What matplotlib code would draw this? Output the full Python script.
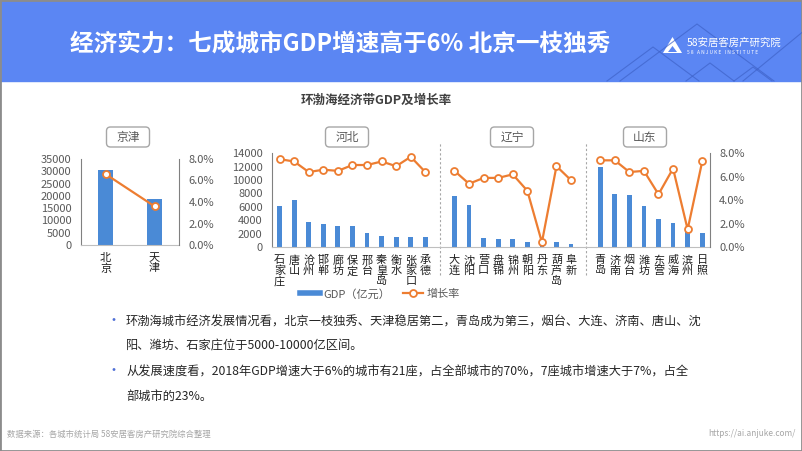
import numpy as np
import matplotlib.pyplot as plt
from matplotlib.lines import Line2D
from matplotlib.patches import FancyBboxPatch, Rectangle, Polygon
from matplotlib.ticker import FuncFormatter, MultipleLocator
from matplotlib.transforms import IdentityTransform

plt.rcParams['font.family'] = ['Noto Sans CJK SC', 'DejaVu Sans']

W, H = 802, 451

# GDP (亿元) and growth rate (%)
jingjin_cities = ['北京', '天津']
jingjin_gdp = [30320, 18810]
jingjin_growth = [6.6, 3.6]

hebei_cities = ['石家庄', '唐山', '沧州', '邯郸', '廊坊', '保定', '邢台',
                '秦皇岛', '衡水', '张家口', '承德']
hebei_gdp = [6082, 6955, 3676, 3455, 3108, 3070, 2150, 1636, 1558, 1536, 1481]
hebei_growth = [7.5, 7.3, 6.4, 6.6, 6.5, 7.0, 7.0, 7.3, 6.9, 7.7, 6.4]

liaoning_cities = ['大连', '沈阳', '营口', '盘锦', '锦州', '朝阳', '丹东',
                   '葫芦岛', '阜新']
liaoning_gdp = [7668, 6292, 1300, 1150, 1150, 780, 820, 760, 420]
liaoning_growth = [6.5, 5.4, 5.9, 5.9, 6.2, 4.8, 0.4, 6.9, 5.7]

shandong_cities = ['青岛', '济南', '烟台', '潍坊', '东营', '威海', '滨州', '日照']
shandong_gdp = [12001, 7857, 7833, 6157, 4152, 3642, 2200, 2150]
shandong_growth = [7.4, 7.4, 6.4, 6.5, 4.5, 6.7, 1.5, 7.3]

group_names = ['河北', '辽宁', '山东']

BLUE = '#4a8ad6'
ORANGE = '#ed7d31'
HEADER = '#5b86f3'


def fy(y):
    return 1 - y / H


def pct(v, pos):
    return '{:.1f}%'.format(v)


def label_box(cx, cy, text):
    w, h = 43, 20
    box = FancyBboxPatch((cx - w / 2, H - cy - h / 2), w, h,
                         boxstyle='round,pad=0,rounding_size=4',
                         transform=IdentityTransform(), fc='white',
                         ec='#a6a6a6', lw=1)
    fig.add_artist(box)
    fig.text(cx / W, fy(cy), text, ha='center', va='center', fontsize=8.5,
             color='#595959')


def style_axes(ax, axr, ymax, ystep):
    ax.set_ylim(0, ymax)
    ax.yaxis.set_major_locator(MultipleLocator(ystep))
    axr.set_ylim(0, 8)
    axr.yaxis.set_major_locator(MultipleLocator(2))
    axr.yaxis.set_major_formatter(FuncFormatter(pct))
    for a in (ax, axr):
        a.spines['top'].set_visible(False)
        a.tick_params(length=0, labelsize=8, colors='#595959', pad=7)
    ax.spines['right'].set_visible(False)
    axr.spines['left'].set_visible(False)
    axr.spines['bottom'].set_visible(False)
    ax.spines['left'].set_color('#808080')
    axr.spines['right'].set_color('#808080')
    ax.spines['bottom'].set_color('#bfbfbf')
    ax.tick_params(axis='x', colors='#1f1f1f', pad=6)


def vertical(names):
    return ['\n'.join(n) for n in names]


fig = plt.figure(figsize=(8.02, 4.51), dpi=100)

# header band
fig.add_artist(Rectangle((0, fy(81)), 1, 81 / H, transform=fig.transFigure,
                         color=HEADER, zorder=0))
for px_, py_, half in [(697, 24, 77), (653, 47, 46), (710, 63, 24),
                       (753, 67, 19), (805, 30, 62)]:
    fig.add_artist(Line2D([px_ - half, px_, px_ + half], [H - 81, H - py_, H - 81],
                          transform=IdentityTransform(), color='#3e62c8',
                          lw=0.8, alpha=0.7))
fig.text(70 / W, fy(45), '经济实力：七成城市GDP增速高于6% 北京一枝独秀',
         fontsize=17, weight='bold', color='white', va='center')
fig.add_artist(Polygon([(663, H - 53), (672.5, H - 37), (682, H - 53)],
                       transform=IdentityTransform(), fc='white', ec='none'))
fig.add_artist(Polygon([(668, H - 52), (672.5, H - 46), (677, H - 52)],
                       transform=IdentityTransform(), fc=HEADER, ec='none'))
fig.text(687 / W, fy(43), '58安居客房产研究院', fontsize=7.5, color='white',
         va='center')
fig.text(687 / W, fy(52), '5 8   A N J U K E   I N S T I T U T E',
         fontsize=3.5, color='white', va='center')

fig.text(376 / W, fy(100), '环渤海经济带GDP及增长率', fontsize=9,
         weight='bold', color='#404040', ha='center', va='center')

# 京津 panel
ax1 = fig.add_axes([81 / W, fy(245), 98 / W, 86 / H])
ax1r = ax1.twinx()
x1 = np.arange(len(jingjin_cities))
ax1.bar(x1, jingjin_gdp, width=0.32, color=BLUE)
ax1r.plot(x1, jingjin_growth, color=ORANGE, lw=1.6, marker='o', ms=5,
          mfc='white', mec=ORANGE, mew=1.3)
ax1.set_xlim(-0.5, 1.5)
ax1.set_xticks(x1)
ax1.set_xticklabels(vertical(jingjin_cities), linespacing=1.0, fontsize=8.5)
style_axes(ax1, ax1r, 35000, 5000)
label_box(128, 137, '京津')

# 河北 / 辽宁 / 山东 panel, one blank slot between provinces
groups = [(hebei_cities, hebei_gdp, hebei_growth),
          (liaoning_cities, liaoning_gdp, liaoning_growth),
          (shandong_cities, shandong_gdp, shandong_growth)]
names, gdp, growth, gaps = [], [], [], []
for i, (c, g, r) in enumerate(groups):
    if i > 0:
        gaps.append(len(names))
        names.append('')
        gdp.append(np.nan)
        growth.append(np.nan)
    names += c
    gdp += g
    growth += r
x2 = np.arange(len(names))

ax2 = fig.add_axes([272.3 / W, fy(247), 437.2 / W, 93.7 / H])
ax2r = ax2.twinx()
ax2.bar(x2, gdp, width=0.33, color=BLUE)
ax2r.plot(x2, growth, color=ORANGE, lw=1.6, marker='o', ms=5,
          mfc='white', mec=ORANGE, mew=1.3)
ax2.set_xlim(-0.5, len(names) - 0.5)
ax2.set_xticks(x2)
ax2.set_xticklabels(vertical(names), linespacing=1.0, fontsize=8)
style_axes(ax2, ax2r, 14000, 2000)
for g in gaps:
    ax2.axvline(g, ymin=-0.3, ymax=1.11, color='#a6a6a6', lw=0.8,
                ls=(0, (2, 2)), clip_on=False)
for name, cx in zip(group_names, [347, 512, 645]):
    label_box(cx, 137, name)

handles = [Line2D([], [], color=BLUE, lw=4),
           Line2D([], [], color=ORANGE, lw=1.6, marker='o', ms=5,
                  mfc='white', mec=ORANGE, mew=1.3)]
fig.legend(handles, ['GDP（亿元）', '增长率'], loc='center',
           bbox_to_anchor=(380 / W, fy(294)), ncol=2, frameon=False,
           fontsize=8, labelcolor='#595959', handlelength=1.8,
           handletextpad=0.3, columnspacing=1.2)

# notes
bullets = [
    ['环渤海城市经济发展情况看，北京一枝独秀、天津稳居第二，青岛成为第三，烟台、大连、济南、唐山、沈',
     '阳、潍坊、石家庄位于5000-10000亿区间。'],
    ['从发展速度看，2018年GDP增速大于6%的城市有21座，占全部城市的70%，7座城市增速大于7%，占全',
     '部城市的23%。'],
]
for (l1, l2), y in zip(bullets, [322, 372]):
    fig.text(113 / W, fy(y - 1), '•', color='#4f6fd6', fontsize=10,
             ha='center', va='center')
    fig.text(126 / W, fy(y), l1, fontsize=8.8, color='#262626', va='center')
    fig.text(126 / W, fy(y + 24), l2, fontsize=8.8, color='#262626',
             va='center')

fig.text(7 / W, fy(434), '数据来源：各城市统计局 58安居客房产研究院综合整理',
         fontsize=6, color='#a6a6a6', va='center')
fig.text(796 / W, fy(434), 'https://ai.anjuke.com/', fontsize=6,
         color='#a6a6a6', va='center', ha='right')

fig.add_artist(Rectangle((0, 0), 1, 1, transform=fig.transFigure, fill=False,
                         ec='#8c8c8c', lw=2))

fig.savefig('out.png', dpi=100)
